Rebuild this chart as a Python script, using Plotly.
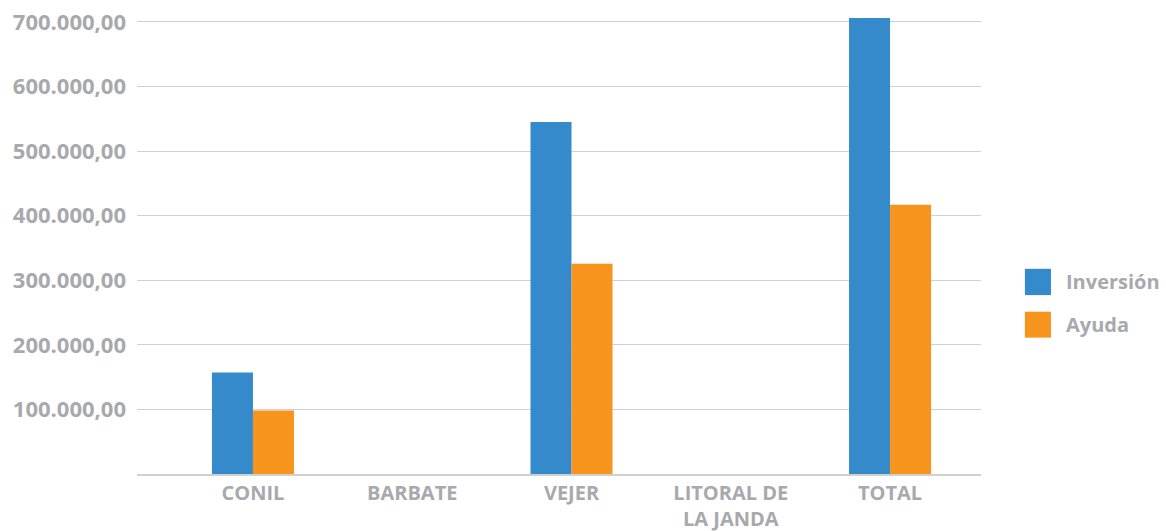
import plotly.graph_objects as go

categories = ["CONIL", "BARBATE", "VEJER", "LITORAL DE<br>LA JANDA", "TOTAL"]
inversion = [157000, None, 545000, None, 706000]
ayuda = [98500, None, 325500, None, 417000]
series_names = ["Inversión", "Ayuda"]
colors = ["#348ACB", "#F7941E"]
tick_vals = [100000, 200000, 300000, 400000, 500000, 600000, 700000]

GRAY = "#A7A9AC"
FONT = "Open Sans"

fig = go.Figure()
fig.add_bar(x=list(range(len(categories))), y=inversion, name=series_names[0],
            marker=dict(color=colors[0], line=dict(width=0)), showlegend=False)
fig.add_bar(x=list(range(len(categories))), y=ayuda, name=series_names[1],
            marker=dict(color=colors[1], line=dict(width=0)), showlegend=False)

# manual legend (large squares)
legend_rows = [(0.4329, 0.3774), (0.3424, 0.2877)]
for i, (y1, y0) in enumerate(legend_rows):
    fig.add_shape(type="rect", xref="paper", yref="paper",
                  x0=1.052, x1=1.0829, y0=y0, y1=y1,
                  fillcolor=colors[i], line=dict(width=0))
    fig.add_annotation(xref="paper", yref="paper", x=1.098, y=(y0 + y1) / 2,
                       text=series_names[i], showarrow=False, xanchor="left",
                       yanchor="middle",
                       font=dict(family=FONT, size=20, color=GRAY, weight="bold"))

fig.update_layout(
    width=1166, height=531,
    margin=dict(l=137, r=185, t=0, b=57),
    paper_bgcolor="white", plot_bgcolor="white",
    barmode="group", bargap=0.485, bargroupgap=0,
    separators=",.",
    font=dict(family=FONT, size=21, color=GRAY, weight="bold"),
    showlegend=False,
    xaxis=dict(range=[-0.728, 4.571], tickvals=list(range(len(categories))),
               ticktext=categories, showgrid=False, zeroline=False,
               showline=True, linecolor="#D0D0D0", linewidth=1.5,
               ticks="", ticklabelstandoff=0, automargin=False,
               tickfont=dict(family=FONT, size=20, color=GRAY, weight="bold")),
    yaxis=dict(range=[0, 734000], tickvals=tick_vals, tickformat=",.2f",
               showgrid=True, gridcolor="#D0D0D0", gridwidth=1.2,
               zeroline=False, showline=False, ticks="", ticklabelstandoff=10,
               automargin=False,
               tickfont=dict(family=FONT, size=22, color=GRAY, weight="bold")),
)

fig.write_html("out.html", config={"displayModeBar": False},
               post_script="document.body.style.margin='0';document.body.style.overflow='hidden';")
